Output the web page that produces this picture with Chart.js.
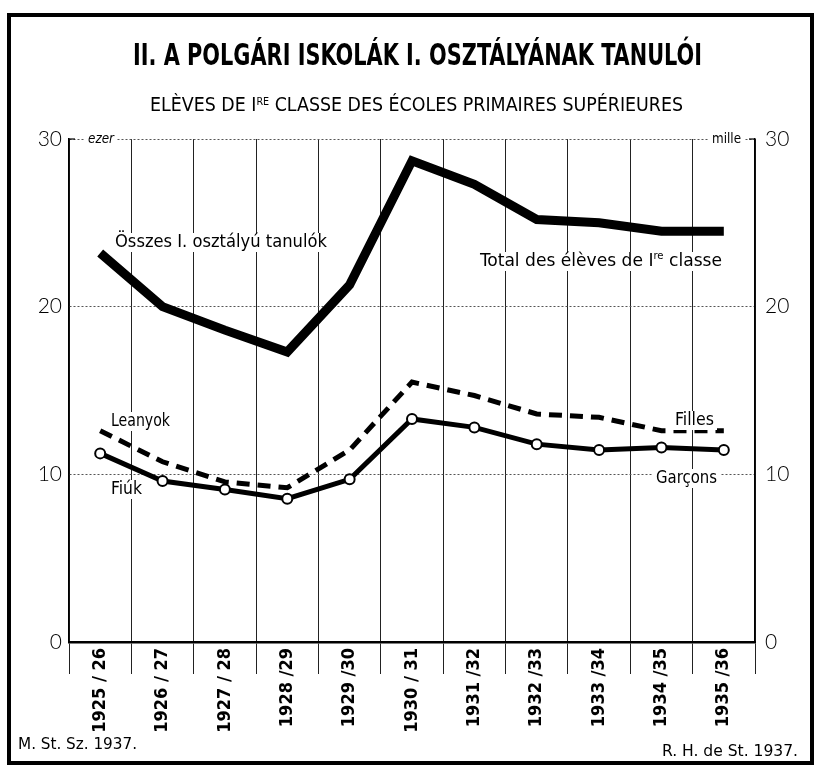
<!DOCTYPE html>
<html>
<head>
<meta charset="utf-8">
<script src="https://cdn.jsdelivr.net/npm/chart.js@4.4.1/dist/chart.umd.min.js"></script>
<style>
  html, body { margin: 0; padding: 0; background: #fff; }
  #wrap { width: 831px; height: 770px; position: relative; }
</style>
</head>
<body>
<div id="wrap"><canvas id="c" width="831" height="770"></canvas></div>
<script>
// ---- data (thousands of pupils) ----
const categories = ['1925 / 26', '1926 / 27', '1927 / 28', '1928 /29', '1929 /30', '1930 / 31',
                    '1931 /32', '1932 /33', '1933 /34', '1934 /35', '1935 /36'];
const totalPupils = [23.2, 20.0, 18.6, 17.3, 21.3, 28.7, 27.3, 25.2, 25.0, 24.5, 24.5];
const girls       = [12.6, 10.75, 9.55, 9.2, 11.45, 15.5, 14.7, 13.6, 13.4, 12.6, 12.6];
const boys        = [11.25, 9.6, 9.1, 8.55, 9.7, 13.3, 12.8, 11.8, 11.45, 11.6, 11.45];
const yTicks      = [0, 10, 20, 30];

const CONDENSED = '"Liberation Sans Narrow", "DejaVu Sans Condensed", "Arial Narrow", "Liberation Sans", sans-serif';
const ROUND = 'Lato, "Open Sans", "DejaVu Sans", sans-serif';

function drawRuns(ctx, runs, x, y, w, align, bg) {
  ctx.save();
  let total = 0;
  runs.forEach(r => { ctx.font = r.font; r.w = ctx.measureText(r.t).width; total += r.w; });
  const s = w ? w / total : 1;
  const width = total * s;
  const x0 = align === 'center' ? x - width / 2 : align === 'right' ? x - width : x;
  if (bg) {
    ctx.fillStyle = '#fff';
    ctx.fillRect(x0 - bg.pad, y - bg.up, width + 2 * bg.pad, bg.up + bg.down);
  }
  ctx.fillStyle = '#000';
  ctx.textBaseline = 'alphabetic';
  ctx.textAlign = 'left';
  ctx.translate(x0, y);
  ctx.scale(s, 1);
  let cx = 0;
  runs.forEach(r => { ctx.font = r.font; ctx.fillText(r.t, cx, r.dy || 0); cx += r.w; });
  ctx.restore();
}

const decor = {
  id: 'decor',
  beforeDraw(chart) {
    const ctx = chart.ctx;
    ctx.save();
    ctx.fillStyle = '#fff';
    ctx.fillRect(0, 0, chart.width, chart.height);
    ctx.restore();
  },
  afterDraw(chart) {
    const ctx = chart.ctx;
    const a = chart.chartArea;
    // frame
    ctx.save();
    ctx.strokeStyle = '#000';
    ctx.lineWidth = 4;
    ctx.strokeRect(9, 15, 803, 748);
    ctx.restore();
    // title + subtitle
    drawRuns(ctx, [{t: 'II. A POLGÁRI ISKOLÁK I. OSZTÁLYÁNAK TANULÓI', font: 'bold 30px ' + CONDENSED}],
      133, 65, 569, 'left');
    drawRuns(ctx, [
      {t: 'ELÈVES DE I', font: '20px ' + CONDENSED},
      {t: 'RE', font: '11px ' + CONDENSED, dy: -6},
      {t: ' CLASSE DES ÉCOLES PRIMAIRES SUPÉRIEURES', font: '20px ' + CONDENSED}
    ], 150, 111, 533, 'left');
    // unit labels on top gridline
    drawRuns(ctx, [{t: 'ezer', font: 'italic 14px ' + CONDENSED}], 88, a.top + 4, 26, 'left',
      {pad: 3, up: 12, down: 6});
    drawRuns(ctx, [{t: 'mille', font: '14px ' + CONDENSED}], 712, a.top + 4, 29, 'left',
      {pad: 3, up: 12, down: 6});
    // bracket ticks at top of the axes
    ctx.save();
    ctx.strokeStyle = '#000'; ctx.lineWidth = 1.2;
    ctx.beginPath(); ctx.moveTo(a.left, a.top); ctx.lineTo(a.left + 6, a.top); ctx.stroke();
    ctx.beginPath(); ctx.moveTo(a.right - 6, a.top); ctx.lineTo(a.right, a.top); ctx.stroke();
    ctx.restore();
    // series labels
    const lab = '17px ' + CONDENSED;
    const bgT = {pad: 3, up: 14, down: 5};
    drawRuns(ctx, [{t: 'Összes I. osztályú tanulók', font: lab}], 115, 247, 212, 'left', bgT);
    drawRuns(ctx, [
      {t: 'Total des élèves de I', font: lab},
      {t: 're', font: '10px ' + CONDENSED, dy: -7},
      {t: ' classe', font: lab}
    ], 480, 266, 242, 'left', bgT);
    drawRuns(ctx, [{t: 'Leanyok', font: lab}], 111, 426, 59, 'left', bgT);
    drawRuns(ctx, [{t: 'Fiúk', font: lab}], 111, 494, 31, 'left', bgT);
    drawRuns(ctx, [{t: 'Filles', font: lab}], 675, 425, 39, 'left', bgT);
    drawRuns(ctx, [{t: 'Garçons', font: lab}], 656, 483, 61, 'left', bgT);
    // footers
    drawRuns(ctx, [{t: 'M. St. Sz. 1937.', font: '16px ' + CONDENSED}], 18, 749, 119, 'left');
    drawRuns(ctx, [{t: 'R. H. de St. 1937.', font: '16px ' + CONDENSED}], 662, 756, 136, 'left');
  }
};

const yCommon = {
  min: 0, max: 30,
  afterBuildTicks(scale) { scale.ticks = yTicks.map(v => ({value: v})); },
  grid: { drawTicks: false, color: '#555', lineWidth: 1 },
  border: { display: true, color: '#000', width: 1.5, dash: [2, 2] },
  ticks: { color: '#000', font: { family: ROUND, size: 21, weight: '300' } }
};

new Chart(document.getElementById('c'), {
  type: 'line',
  data: {
    labels: categories,
    datasets: [
      {
        label: 'Összes I. osztályú tanulók',
        data: totalPupils,
        borderColor: '#000', borderWidth: 9,
        borderCapStyle: 'butt', borderJoinStyle: 'miter',
        pointRadius: 0, tension: 0, yAxisID: 'y'
      },
      {
        label: 'Leanyok',
        data: girls,
        borderColor: '#000', borderWidth: 5, borderDash: [13, 8],
        borderCapStyle: 'butt', borderJoinStyle: 'miter',
        pointRadius: 0, tension: 0, yAxisID: 'y'
      },
      {
        label: 'Fiúk',
        data: boys,
        borderColor: '#000', borderWidth: 5,
        borderJoinStyle: 'miter',
        pointRadius: 5, pointBackgroundColor: '#fff', pointBorderColor: '#000', pointBorderWidth: 2,
        tension: 0, yAxisID: 'y'
      }
    ]
  },
  options: {
    responsive: false,
    animation: false,
    layout: { padding: { top: 139, left: 0, right: 0, bottom: 0 } },
    plugins: { legend: { display: false }, tooltip: { enabled: false }, title: { display: false } },
    scales: {
      x: {
        offset: true,
        afterFit(scale) { scale.height = 128; },
        grid: { offset: true, color: '#222', lineWidth: 1, tickLength: 32, tickColor: '#222' },
        border: { display: true, color: '#000', width: 2.5 },
        ticks: {
          autoSkip: false, maxRotation: 90, minRotation: 90, padding: -26,
          color: '#000', font: { family: CONDENSED, size: 18, weight: 'bold' }
        }
      },
      y: Object.assign({}, yCommon, {
        position: 'left',
        afterFit(scale) { scale.width = 69; },
        ticks: Object.assign({}, yCommon.ticks, { padding: 7 })
      }),
      y2: Object.assign({}, yCommon, {
        position: 'right',
        afterFit(scale) { scale.width = 76; },
        grid: { display: false, drawTicks: false },
        ticks: Object.assign({}, yCommon.ticks, { padding: 10 })
      })
    }
  },
  plugins: [decor]
});
</script>
</body>
</html>
